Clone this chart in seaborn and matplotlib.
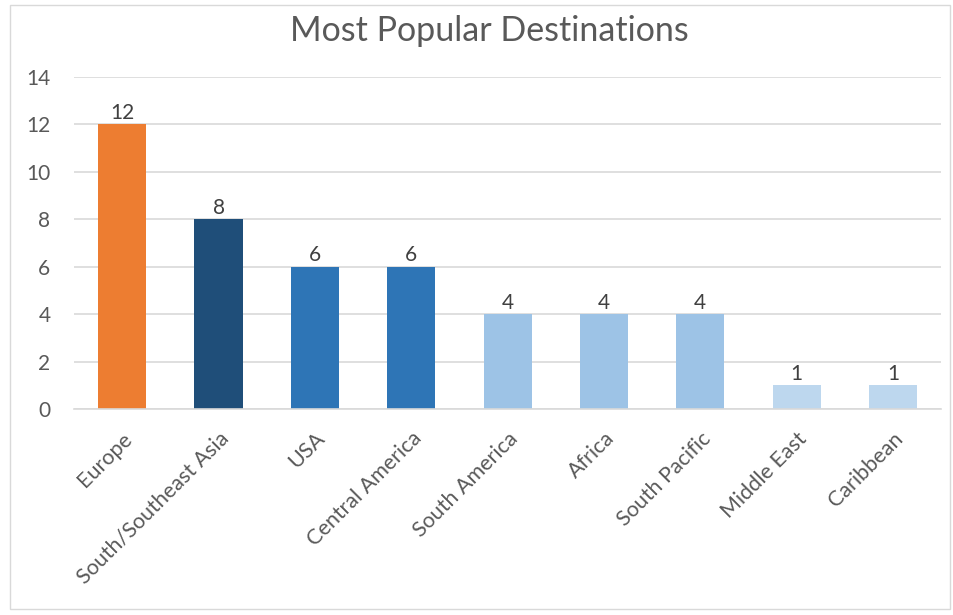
import matplotlib
matplotlib.use("Agg")
import matplotlib.pyplot as plt
from matplotlib.patches import Rectangle
import seaborn as sns
import pandas as pd

destinations = ["Europe", "South/Southeast Asia", "USA", "Central America",
                "South America", "Africa", "South Pacific", "Middle East", "Caribbean"]
counts = [12, 8, 6, 6, 4, 4, 4, 1, 1]
bar_colors = ["#ED7D31", "#1F4E79", "#2E75B6", "#2E75B6",
              "#9DC3E6", "#9DC3E6", "#9DC3E6", "#BDD7EE", "#BDD7EE"]
y_ticks = [0, 2, 4, 6, 8, 10, 12, 14]

sns.set_theme(style="white")
plt.rcParams["font.family"] = ["Lato", "DejaVu Sans"]

df = pd.DataFrame({"destination": destinations, "count": counts})

fig = plt.figure(figsize=(9.54, 6.15), dpi=100)
ax = fig.add_axes([0.0776, 0.335, 0.909, 0.540])

sns.barplot(data=df, x="destination", y="count", hue="destination",
            palette=bar_colors, width=0.5, legend=False, ax=ax,
            saturation=1, edgecolor="none")

ax.set_ylim(0, 14)
ax.set_yticks(y_ticks)
ax.set_xlim(-0.5, len(destinations) - 0.5)
ax.yaxis.grid(True, color="#D9D9D9", linewidth=1.2)
ax.set_axisbelow(True)
for side in ["top", "right", "left"]:
    ax.spines[side].set_visible(False)
ax.spines["bottom"].set_color("#D9D9D9")
ax.spines["bottom"].set_linewidth(1.2)
ax.set_xlabel("")
ax.set_ylabel("")
ax.tick_params(axis="both", length=0, labelsize=15, colors="#595959")
ax.tick_params(axis="y", pad=17)
ax.tick_params(axis="x", pad=14)
ax.set_xticks(range(len(destinations)))
ax.set_xticklabels(destinations, rotation=45, ha="right",
                   rotation_mode="anchor", fontsize=15.5, color="#595959")

for container in ax.containers:
    ax.bar_label(container, fmt="%g", padding=1, fontsize=15, color="#404040")

fig.text(0.513, 0.950, "Most Popular Destinations", ha="center", va="center",
         fontsize=24.5, color="#595959")

# thin frame around the chart area
fig.patches.append(Rectangle((10 / 954, 1 - 609 / 615), 940 / 954, 604 / 615,
                             transform=fig.transFigure, fill=False,
                             edgecolor="#D9D9D9", linewidth=1))

fig.savefig("out.png", dpi=100, facecolor="white")
